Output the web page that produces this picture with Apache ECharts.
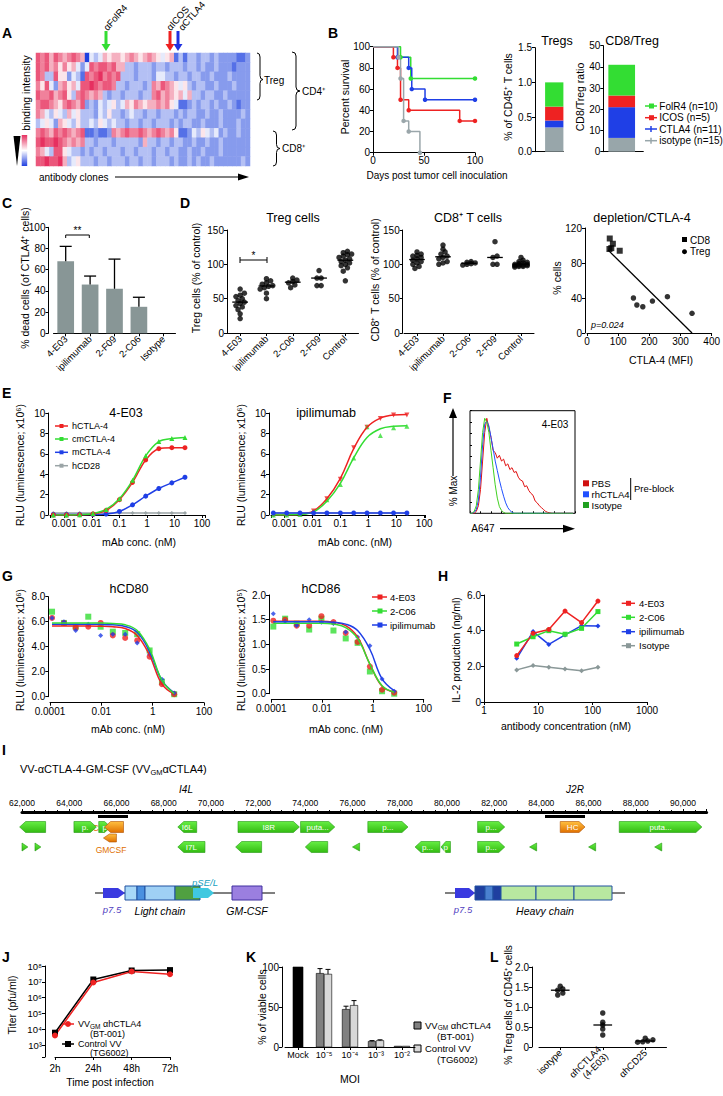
<!DOCTYPE html>
<html>
<head>
<meta charset="utf-8">
<script src="https://cdn.jsdelivr.net/npm/echarts@6.0.0/dist/echarts.min.js"></script>
<style>
html,body{margin:0;padding:0;background:#fff;}
#chart{width:723px;height:1096px;}
</style>
</head>
<body>
<div id="chart"></div>
<script>
// ======================= DATA =======================
// A: binding intensity (0 = low / blue ... 9 = high / red), rows = cell subsets, columns = antibody clones
const heatRow0 = [8,7,8,6,8,7,6,7,8,7,6,0,4,3,4,6,5,6,6,5,6,7,6,5,6,7,6,5,4,5,6,1,3,1,3,3,2,3,3,2,3,2,2,2,2,1,1,2];
const heatRow1 = [8,7,8,6,7,5,7,5,6,4,2,4,8,7,8,8,7,8,6,6,3,3,2,3,3,3,2,3,3,2,3,3,3,2,3,3,2,3,2,2,3,2,2,2,1,2,2,2];
const heatRow2 = [8,7,3,3,8,5,5,2,4,3,1,8,7,8,9,7,8,7,8,3,3,3,2,3,3,3,2,4,4,3,3,2,3,3,2,3,3,2,2,3,2,2,2,3,2,2,2,2];
const heatRow3 = [7,5,8,4,2,6,7,5,6,4,8,8,9,8,7,8,8,7,3,3,2,3,3,3,2,3,7,6,8,7,6,5,4,5,3,2,3,3,2,2,3,2,2,2,3,2,2,2];
const heatRow4 = [8,7,7,8,6,7,8,5,3,7,8,7,6,7,6,3,2,3,3,2,3,3,3,2,3,3,7,8,6,7,6,5,6,4,6,3,3,2,3,3,2,2,3,2,2,2,2,2];
const heatRow5 = [7,8,8,7,6,5,7,8,7,6,8,2,3,2,4,3,4,5,3,4,6,5,7,6,5,6,6,7,6,7,5,4,1,1,2,3,2,3,3,2,3,2,2,3,2,1,2,2];
const heatRow6 = [7,6,4,3,5,4,3,6,4,5,3,3,3,2,4,3,5,3,3,2,3,4,3,3,2,3,3,2,3,3,3,2,3,2,3,3,2,2,3,2,2,3,2,2,2,2,3,2];
const heatRow7 = [3,4,5,4,2,6,5,4,3,5,3,3,4,3,5,4,3,4,3,3,2,3,3,2,3,3,2,3,3,3,2,3,2,3,3,2,2,3,2,2,2,3,2,2,2,3,2,2];
const heatRow8 = [7,8,7,6,8,7,8,7,6,7,8,1,1,2,1,1,2,7,6,7,8,7,7,8,7,6,7,8,7,6,7,5,1,1,2,4,3,5,4,3,4,2,3,2,2,3,2,2];
const heatRow9 = [8,9,8,8,9,8,7,6,7,6,7,3,3,2,3,3,3,2,3,3,3,3,3,2,6,3,3,2,3,3,2,3,3,2,2,3,2,2,3,2,2,3,2,2,2,2,2,2];
const heatRow10 = [7,6,4,3,8,8,5,4,3,3,2,3,2,3,3,2,3,3,3,2,3,3,2,3,3,3,2,3,3,2,3,3,2,2,3,2,2,3,2,2,2,3,2,2,2,2,2,2];
const heatRow11 = [8,8,9,8,8,9,6,3,4,5,3,3,3,2,3,3,2,3,3,3,2,3,3,2,3,3,2,3,3,3,2,3,2,2,3,2,3,2,2,3,2,2,2,2,2,2,3,2];
const heatRows = [heatRow0,heatRow1,heatRow2,heatRow3,heatRow4,heatRow5,heatRow6,heatRow7,heatRow8,heatRow9,heatRow10,heatRow11];

// B: Kaplan-Meier survival [day, % survival]
const survFolR4 = [[0,100],[27,90],[37,70],[100,70]];
const survICOS = [[0,100],[20,90],[24,80],[27,50],[35,40],[85,30],[100,30]];
const survCTLA4 = [[0,100],[24,90],[35,80],[38,60],[51,50],[100,50]];
const survIsotype = [[0,100],[25,90],[27,70],[30,30],[35,20],[46,0]];
const bGroups = ['FolR4 (n=10)','ICOS (n=5)','CTLA4 (n=11)','isotype (n=15)'];
const bTregPct = [0.35,0.20,0.10,0.35];
const bRatio = [14.5,5.5,14.5,6.5];

// C: % dead cells
const cCats = ['4-E03','ipilimumab','2-F09','2-C06','Isotype'];
const cMean = [68,46,42,25,0];
const cErr = [14,8,28,9,0];

// D: depletion
const dCats = ['4-E03','ipilimumab','2-C06','2-F09','Control'];
const dTreg4E03 = [64,58,55,53,50,47,45,43,40,38,34,28,21];
const dTregIpi = [79,76,73,71,69,68,66,64,58,50];
const dTregC06 = [80,77,75,73,70,66];
const dTregF09 = [91,80,80,69,69];
const dTregCtrl = [119,117,115,114,112,110,108,106,104,102,100,98,95,90,76];
const dCD84E03 = [118,115,113,112,110,108,106,104,102,100,97,94];
const dCD8Ipi = [128,122,118,115,112,110,108,104,102,100];
const dCD8C06 = [104,103,102,101,100,99];
const dCD8F09 = [133,112,110,100,100];
const dCD8Ctrl = [110,106,104,103,102,101,100,100,99,99,98,98,97,97,96];
const depCD8 = [[73,108],[72,96],[83,102],[78,97],[105,94]];
const depTreg = [[149,40],[160,32],[179,30],[210,36.5],[258,41.5],[337,22.5]];
const depFit = [[67,95],[337,0]];

// E: RLU vs mAb concentration (nM)
const eConc = [0.0004,0.0012,0.0036,0.011,0.033,0.1,0.3,0.9,2.7,8,24];
const e4hCTLA4 = [0,0,0.02,0.1,0.45,1.5,3.2,5.4,6.5,6.6,6.6];
const e4cmCTLA4 = [0,0,0.03,0.15,0.55,1.6,3.4,5.8,7.2,7.5,7.6];
const e4mCTLA4 = [0.05,0.05,0.05,0.05,0.1,0.35,1.0,1.85,2.6,3.15,3.7];
const e4hCD28 = [0.2,0.2,0.2,0.2,0.2,0.2,0.2,0.2,0.2,0.2,0.2];
const eIhCTLA4 = [0,0,0.05,0.4,1.6,3.5,6.6,8.6,9.45,9.8,9.8];
const eIcmCTLA4 = [0,0,0.05,0.35,1.5,3.0,5.6,8.65,7.8,8.55,8.7];
const eImCTLA4 = [0.2,0.2,0.2,0.2,0.2,0.2,0.2,0.2,0.2,0.2,0.2];
const eIhCD28 = [0.2,0.2,0.2,0.2,0.2,0.2,0.2,0.2,0.2,0.2,0.2];
const eIhCTLA4Fit = [0,0.01,0.06,0.4,1.6,3.6,6.5,8.6,9.5,9.8,9.85];
const eIcmCTLA4Fit = [0,0.01,0.05,0.3,1.35,3.1,5.6,7.6,8.45,8.7,8.75];

// F: histogram (% of max) per fluorescence bin
const fPBS = [0,0,0,2,8,25,55,85,100,90,80,66,64,58,61,55,57,50,52,46,48,43,44,38,35,34,28,29,24,21,19,13,11,8,6,4,2,1,0.5,0,0,0,0,0,0,0,0,0,0,0];
const fRh = [0,0,1,4,14,38,72,94,97,92,80,68,55,45,35,26,18,11,6,3,1,0,0,0,0,0,0,0,0,0,0,0,0,0,0,0,0,0,0,0,0,0,0,0,0,0,0,0,0,0];
const fIso = [0,0,2,8,25,55,85,100,96,85,66,48,30,16,7,3,1,0,0,0,0,0,0,0,0,0,0,0,0,0,0,0,0,0,0,0,0,0,0,0,0,0,0,0,0,0,0,0,0,0];

// G: ligand blocking
const gConc = [0.00012,0.00035,0.001,0.0031,0.0094,0.028,0.085,0.25,0.76,2.3,6.9];
const g80E03 = [6.3,5.9,5.5,5.6,5.9,4.9,4.7,4.5,3.2,1.0,0.2];
const g80C06 = [6.8,5.9,5.6,6.4,5.6,5.2,5.1,5.0,3.7,1.2,0.2];
const g80Ipi = [6.3,6.0,5.3,5.8,4.9,5.0,5.0,4.3,3.4,1.4,0.3];
const g80E03Fit = [5.65,5.65,5.65,5.65,5.64,5.6,5.45,4.9,3.3,1.0,0.2];
const g80C06Fit = [5.9,5.9,5.9,5.9,5.89,5.85,5.75,5.3,3.8,1.3,0.25];
const g80IpiFit = [5.8,5.8,5.8,5.8,5.79,5.75,5.62,5.15,3.6,1.3,0.3];
const g86E03 = [1.48,1.50,1.38,1.38,1.57,1.45,1.23,1.05,0.55,0.08,0.02];
const g86C06 = [1.36,1.52,1.42,1.30,1.52,1.28,1.12,1.03,0.45,0.05,0.0];
const g86Ipi = [1.62,1.47,1.38,1.50,1.45,1.42,1.25,1.15,0.97,0.3,0.05];
const g86E03Fit = [1.47,1.47,1.47,1.47,1.47,1.45,1.38,1.15,0.6,0.15,0.03];
const g86C06Fit = [1.43,1.43,1.43,1.43,1.43,1.41,1.34,1.12,0.6,0.16,0.03];
const g86IpiFit = [1.46,1.46,1.46,1.46,1.46,1.45,1.41,1.28,0.9,0.3,0.06];

// H: IL-2 production
const hConc = [4,8,15.6,31,62.5,125];
const hE03 = [2.6,3.85,4.07,5.1,4.45,5.66];
const hC06 = [3.25,3.66,4.0,3.8,4.13,5.07];
const hIpi = [2.45,3.95,3.23,3.76,4.28,4.26];
const hIso = [1.8,2.05,1.95,1.85,1.75,1.95];

// I: genome map features (bp)
const iGeneStart = [61900,64200,65250,65500,68600,71150,73800,76650,81300,84800,87300, 62000,62550,65450,68600,71050,74000,76000,78650,79750,81300,83500,86000,88800];
const iGeneEnd   = [63000,65150,65750,66300,69400,73750,75250,78350,82450,85850,90800, 62250,62800,66000,69750,72150,74950,76300,79700,80150,82450,83800,86300,89100];
const iGeneRow   = [0,0,0,0,0,0,0,0,0,0,0, 1,1,0.55,1,1,1,1,1,1,1,1,1,1];
const iGeneDir   = [-1,1,1,-1,-1,1,1,1,1,1,1, 1,1,-1,-1,-1,-1,-1,-1,-1,1,-1,-1,-1];
const iGeneKind  = [0,0,0,1,0,0,0,0,0,1,0, 2,2,3,0,0,0,2,0,0,0,2,2,2];
const iGeneLabel = ['','p.','p','','I6L','I8R','puta...','p...','p...','HC','puta...', '','','','I7L','','','','p...','p','p...','','',''];

// J: virus titer
const jTimes = ['2h','24h','48h','72h'];
const jBT = [4000,9000000,45000000,30000000];
const jTG = [6000,14000000,52000000,55000000];

// K: viability
const kCats = ['Mock','10⁻⁵','10⁻⁴','10⁻³','10⁻²'];
const kMock = [100];
const kBT = [92,47,7,1];
const kTG = [91,52,8,1];
const kBTErr = [6,4,1,0];
const kTGErr = [6,6,1,0];

// L: Treg depletion in vivo
const lCats = ['isotype','αhCTLA4\n(4-E03)','αhCD25'];
const lIso = [1.52,1.45,1.42,1.35,1.30];
const lCTLA4 = [0.85,0.62,0.55,0.45,0.30];
const lCD25 = [0.22,0.18,0.15,0.13,0.12];

// ======================= HELPERS =======================
const FONT = '"Liberation Sans", Arial, Helvetica, sans-serif';
const COL = {red:'#ee2222', green:'#33dd33', blue:'#1f3fe6', gray:'#9aa6aa'};
function font(size, weight, style){ return (style||'normal')+' '+(weight||'normal')+' '+size+'px '+FONT; }
function merge(a,b){ const o=Object.assign({},a); for(const k in b){ const bv=b[k], av=a[k]; if(bv && typeof bv==='object' && !Array.isArray(bv) && av && typeof av==='object' && !Array.isArray(av)) o[k]=merge(av,bv); else o[k]=bv; } return o; }
const grids=[], xAxes=[], yAxes=[], series=[], graphics=[];
function grid(l,t,w,h,extra){ grids.push(Object.assign({left:l,top:t,width:w,height:h,containLabel:false},extra||{})); return grids.length-1; }
const AX = {axisLine:{show:true,onZero:false,lineStyle:{color:'#000',width:1}}, axisTick:{show:true,length:3,lineStyle:{color:'#000',width:1}}, axisLabel:{fontSize:9.5,color:'#000',fontFamily:FONT,margin:3}, splitLine:{show:false}};
function xa(gi,o){ xAxes.push(merge(merge(AX,{gridIndex:gi}),o)); return xAxes.length-1; }
function ya(gi,o){ yAxes.push(merge(merge(AX,{gridIndex:gi}),o)); return yAxes.length-1; }
function T(x,y,s,o){ o=o||{}; const st={text:s, fill:o.fill||'#000', font:font(o.size||10,o.weight,o.style), textAlign:o.align||'left', textVerticalAlign:o.valign||'middle'}; if(o.rich) st.rich=o.rich; graphics.push({type:'text', x:x, y:y, rotation:o.rot||0, silent:true, style:st}); }
function L(x1,y1,x2,y2,stroke,w){ graphics.push({type:'line', silent:true, shape:{x1:x1,y1:y1,x2:x2,y2:y2}, style:{stroke:stroke||'#000', lineWidth:w||1}}); }
function P(points,fill,stroke,w){ graphics.push({type:'polygon', silent:true, shape:{points:points}, style:{fill:fill, stroke:stroke||null, lineWidth:w||1}}); }
function R(x,y,w,h,fill,stroke){ graphics.push({type:'rect', silent:true, shape:{x:x,y:y,width:w,height:h}, style:{fill:fill, stroke:stroke||null, lineWidth:1}}); }
function Q(x1,y1,cx,cy,x2,y2){ graphics.push({type:'bezierCurve', silent:true, shape:{x1:x1,y1:y1,x2:x2,y2:y2,cpx1:cx,cpy1:cy}, style:{stroke:'#000', fill:null, lineWidth:1}}); }
function brace(x0,y0,y1,ym,w){ const xm=x0+w/2, r=Math.min(4,(y1-y0)/6);
  Q(x0,y0,xm,y0,xm,y0+r); L(xm,y0+r,xm,ym-r); Q(xm,ym-r,xm,ym,x0+w,ym); Q(x0+w,ym,xm,ym,xm,ym+r); L(xm,ym+r,xm,y1-r); Q(xm,y1-r,xm,y1,x0,y1); }
function isDecade(v){ const l=Math.log10(v); return Math.abs(l-Math.round(l))<1e-6; }
function logFmt(v){ if(!isDecade(v)) return ''; const p=Math.round(Math.log10(v)); return p>=0? String(Math.round(v)) : v.toFixed(-p); }
const SUP = {'-':'⁻','0':'⁰','1':'¹','2':'²','3':'³','4':'⁴','5':'⁵','6':'⁶','7':'⁷','8':'⁸','9':'⁹'};
function pow10Fmt(v){ if(!isDecade(v)) return ''; return '10'+String(Math.round(Math.log10(v))).split('').map(c=>SUP[c]).join(''); }
function median(a){ const s=a.slice().sort((x,y)=>x-y); const n=s.length; return n%2? s[(n-1)/2] : (s[n/2-1]+s[n/2])/2; }
function swarm(vals, ci, thr, step){
  const s=vals.slice().sort((a,b)=>a-b); const out=[]; let grp=[];
  const flush=()=>{ grp.forEach((v,j)=>out.push([ci+(j-(grp.length-1)/2)*step, v])); grp=[]; };
  s.forEach(v=>{ if(grp.length && (v-grp[0]>thr || grp.length>=4)) flush(); grp.push(v); }); flush(); return out;
}
function errRender(cap){ return function(params, api){ const x=api.value(0), m=api.value(1), e=api.value(2); const p0=api.coord([x,m]), p1=api.coord([x,m+e]); return {type:'group', children:[{type:'line', shape:{x1:p0[0],y1:p0[1],x2:p1[0],y2:p1[1]}, style:{stroke:'#000',lineWidth:1.3}},{type:'line', shape:{x1:p1[0]-cap,y1:p1[1],x2:p1[0]+cap,y2:p1[1]}, style:{stroke:'#000',lineWidth:1.3}}]}; }; }
function medRender(half){ return function(params, api){ const x=api.value(0), m=api.value(1); const p=api.coord([x,m]); const w=api.size([1,0])[0]*half; return {type:'line', shape:{x1:p[0]-w,y1:p[1],x2:p[0]+w,y2:p[1]}, style:{stroke:'#000',lineWidth:1.3}}; }; }

// ======================= PANEL LETTERS =======================
[['A',2,33],['B',328,33],['C',2,203],['D',180,203],['E',2,393],['F',443,398],['G',2,576],['H',438,576],['I',2,750],['J',2,957],['K',246,957],['L',490,957]].forEach(a=>T(a[1],a[2],a[0],{size:14,weight:'bold'}));

// ======================= A =======================
const gA = grid(36,53,214,113);
const xA = xa(gA,{type:'category', data:heatRow0.map((_,i)=>i), show:false});
const yA = ya(gA,{type:'category', data:heatRows.map((_,i)=>i), inverse:true, show:false});
const heatData=[]; heatRows.forEach((row,r)=>row.forEach((v,c)=>heatData.push([c,r,v])));
series.push({type:'heatmap', xAxisIndex:xA, yAxisIndex:yA, data:heatData, itemStyle:{borderWidth:0}, emphasis:{disabled:true}});
const heatIdx = series.length-1;
[[106,'#33dd33'],[170,'#ee2020'],[178,'#2030e0']].forEach(a=>{ L(a[0],31,a[0],45,a[1],3); P([[a[0]-4.5,44],[a[0]+4.5,44],[a[0],51]],a[1]); });
T(105,29,'αFolR4',{rot:Math.PI*0.27,size:9.5});
T(168,29,'αICOS',{rot:Math.PI*0.27,size:9.5});
T(180,29,'αCTLA4',{rot:Math.PI*0.27,size:9.5});
T(26,93,'binding intensity',{rot:Math.PI/2,size:10.5,align:'center'});
graphics.push({type:'rect', silent:true, shape:{x:21.7,y:135,width:5.5,height:31}, style:{fill:{type:'linear',x:0,y:0,x2:0,y2:1,colorStops:[{offset:0,color:'#e63060'},{offset:0.5,color:'#ffffff'},{offset:1,color:'#2040e0'}]}}});
P([[13.5,136],[20.5,136],[17,166]],'#000');
T(39,177,'antibody clones',{size:10});
L(115,177,240,177,'#000',1.2); P([[238,173.5],[249,177],[238,180.5]],'#000');
brace(257,53,100,79.5,6); T(264,80,'Treg',{size:10});
brace(292,52,130,91,8); T(302,91,'CD4⁺',{size:10});
brace(273,131,166,148.5,7); T(282,148.5,'CD8⁺',{size:10});

// ======================= B =======================
const gB = grid(373,46.7,102,106);
const xB = xa(gB,{type:'value',min:0,max:100,interval:50,axisLabel:{fontSize:10}});
const yB = ya(gB,{type:'value',min:0,max:100,interval:20,axisLabel:{fontSize:10}});
[[survFolR4,'#33dd33'],[survCTLA4,COL.blue],[survICOS,COL.red],[survIsotype,COL.gray]].forEach(s=>{
  series.push({type:'line', xAxisIndex:xB, yAxisIndex:yB, step:'end', data:s[0].map((p,i)=>i===0?{value:p,symbol:'none'}:{value:p}), symbol:'circle', symbolSize:4.5, showSymbol:true, lineStyle:{color:s[1],width:1.5}, itemStyle:{color:s[1]}});
});
T(345,97,'Percent survival',{rot:Math.PI/2,size:10.5,align:'center'});
T(437,175,'Days post tumor cell inoculation',{size:10,align:'center'});
const bColors = ['#33dd33','#ee2222','#1f3fe6','#98a6aa'];
function stackRender(width){ return function(params, api){ const x=api.value(0), lo=api.value(1), hi=api.value(2), ci=api.value(3); const p0=api.coord([x,lo]), p1=api.coord([x,hi]); return {type:'rect', shape:{x:p0[0]-width/2, y:p1[1], width:width, height:p0[1]-p1[1]}, style:{fill:bColors[ci]}}; }; }
function stackData(x, vals){ const out=[]; let acc=0; [3,2,1,0].forEach(i=>{ out.push([x, acc, acc+vals[i], i]); acc+=vals[i]; }); return out; }
const gBT = grid(535,47.7,28.3,104);
const xBT = xa(gBT,{type:'value',min:0,max:1,axisTick:{show:false},axisLabel:{show:false}});
const yBT = ya(gBT,{type:'value',min:0,max:1.5,interval:0.5,axisLabel:{fontSize:10,formatter:v=>v.toFixed(1)}});
series.push({type:'custom', xAxisIndex:xBT, yAxisIndex:yBT, renderItem:stackRender(18.3), data:stackData(0.68,bTregPct)});
const gBR = grid(603.3,45.7,40,106);
const xBR = xa(gBR,{type:'value',min:0,max:1,axisTick:{show:false},axisLabel:{show:false}});
const yBR = ya(gBR,{type:'value',min:0,max:50,interval:10,axisLabel:{fontSize:10}});
series.push({type:'custom', xAxisIndex:xBR, yAxisIndex:yBR, renderItem:stackRender(26.7), data:stackData(0.46,bRatio)});
T(557,41,'Tregs',{size:12.5,align:'center'});
T(632,41,'CD8/Treg',{size:12.5,align:'center'});
T(508,97,'% of CD45⁺ T cells',{rot:Math.PI/2,size:10.5,align:'center'});
T(580,97,'CD8/Treg ratio',{rot:Math.PI/2,size:10.5,align:'center'});
bGroups.forEach((g,i)=>{ const y=[106,117.7,129,140.7][i]; L(645,y,657,y,bColors[i],1.5); if(i<2) R(649,y-2.5,5,5,bColors[i]); else { L(651,y-3,651,y+3,bColors[i],1.5); } T(659.3,y,g,{size:10}); });

// ======================= C =======================
const gC = grid(53.5,227.3,122,106);
const xC = xa(gC,{type:'category',data:cCats,axisTick:{alignWithLabel:true},axisLabel:{rotate:45,fontSize:9.5,margin:4,interval:0}});
const yC = ya(gC,{type:'value',min:0,max:100,interval:20,offset:5,axisLabel:{fontSize:10}});
series.push({type:'bar', xAxisIndex:xC, yAxisIndex:yC, data:cMean, barWidth:16.7, itemStyle:{color:'#889696'}});
series.push({type:'custom', xAxisIndex:xC, yAxisIndex:yC, renderItem:errRender(6), data:cMean.map((m,i)=>[i,m,cErr[i]]).filter(d=>d[2]>0), z:3});
T(25,278,'% dead cells (of CTLA4⁺ cells)',{rot:Math.PI/2,size:10.5,align:'center'});
L(65.7,235,89.3,235); L(65.7,235,65.7,238); L(89.3,235,89.3,238); T(77.5,230,'**',{size:10,align:'center'});

// ======================= D =======================
function dotPanel(l,t,w,h,groups,yOff){
  const gi = grid(l,t,w,h);
  const xc = xa(gi,{type:'category',data:dCats,axisTick:{alignWithLabel:true},axisLabel:{rotate:45,fontSize:9.5,margin:4,interval:0}});
  const xv = xa(gi,{type:'value',min:-0.5,max:4.5,show:false});
  const yv = ya(gi,{type:'value',min:0,max:150,interval:50,offset:yOff,axisLabel:{fontSize:10}});
  const pts=[]; groups.forEach((g,ci)=>swarm(g,ci,5,0.16).forEach(p=>pts.push(p)));
  series.push({type:'scatter', xAxisIndex:xv, yAxisIndex:yv, data:pts, symbol:'circle', symbolSize:5.5, itemStyle:{color:'#000'}});
  series.push({type:'custom', xAxisIndex:xv, yAxisIndex:yv, renderItem:medRender(0.3), data:groups.map((g,ci)=>[ci,median(g)])});
}
dotPanel(227,230,131.5,103,[dTreg4E03,dTregIpi,dTregC06,dTregF09,dTregCtrl],0);
dotPanel(404,230,130,103,[dCD84E03,dCD8Ipi,dCD8C06,dCD8F09,dCD8Ctrl],1.3);
T(293,218,'Treg cells',{size:12.5,align:'center'});
T(468,218,'CD8⁺ T cells',{size:12.5,align:'center'});
T(196,278,'Treg cells (% of control)',{rot:Math.PI/2,size:10.5,align:'center'});
T(375,280,'CD8⁺ T cells (% of control)',{rot:Math.PI/2,size:10.5,align:'center'});
L(240,260,267,260); L(240,257,240,263); L(267,257,267,263); T(253.5,255,'*',{size:10,align:'center'});
const gDp = grid(587,228,126,105);
const xDp = xa(gDp,{type:'value',min:0,max:400,interval:100,axisLabel:{fontSize:10}});
const yDp = ya(gDp,{type:'value',min:0,max:120,interval:40,offset:2,axisLabel:{fontSize:10}});
series.push({type:'scatter', xAxisIndex:xDp, yAxisIndex:yDp, data:depCD8, symbol:'rect', symbolSize:6, itemStyle:{color:'#000'}});
series.push({type:'scatter', xAxisIndex:xDp, yAxisIndex:yDp, data:depTreg, symbol:'circle', symbolSize:5.5, itemStyle:{color:'#000'}});
series.push({type:'line', xAxisIndex:xDp, yAxisIndex:yDp, data:depFit, symbol:'none', lineStyle:{color:'#000',width:1.3}});
T(642,218,'depletion/CTLA-4',{size:12.5,align:'center'});
T(557,278,'% cells',{rot:Math.PI/2,size:10.5,align:'center'});
T(661,360,'CTLA-4 (MFI)',{size:10.5,align:'center'});
T(591,325,'p=0.024',{size:9,style:'italic'});
R(682,237,5,5,'#000'); T(690,240,'CD8',{size:10});
graphics.push({type:'circle',silent:true,shape:{cx:684.5,cy:251.7,r:2.5},style:{fill:'#000'}}); T(690,251.7,'Treg',{size:10});

// ======================= E =======================
function logAxis(gi,min,max,o){ return xa(gi,merge({type:'log',logBase:10,min:min,max:max,axisLabel:{fontSize:10,formatter:logFmt}},o||{})); }
function curveSet(xi,yi,defs){ defs.forEach(d=>{
  if(d[4]){ series.push({type:'line', xAxisIndex:xi, yAxisIndex:yi, data:eConc.map((c,i)=>[c,d[4][i]]), smooth:0.4, symbol:'none', lineStyle:{color:d[1],width:1.5}});
            series.push({type:'scatter', xAxisIndex:xi, yAxisIndex:yi, data:eConc.map((c,i)=>[c,d[0][i]]), symbol:d[2], symbolSize:d[3]||5, itemStyle:{color:d[1]}}); }
  else series.push({type:'line', xAxisIndex:xi, yAxisIndex:yi, data:eConc.map((c,i)=>[c,d[0][i]]), smooth:0.35, symbol:d[2], symbolSize:d[3]||5, lineStyle:{color:d[1],width:1.5}, itemStyle:{color:d[1]}}); }); }
const gE1 = grid(50,413,155,102);
const xE1 = logAxis(gE1,0.000303,128);
const yE1 = ya(gE1,{type:'value',min:0,max:10,interval:2,offset:1.7,axisLabel:{fontSize:10}});
curveSet(xE1,yE1,[[e4hCD28,'#9aa4a6','diamond',4],[e4mCTLA4,COL.blue,'circle',5],[e4hCTLA4,COL.red,'circle',5],[e4cmCTLA4,'#33dd33','triangle',5]]);
const gE2 = grid(271,413,153.8,102);
const xE2 = logAxis(gE2,0.00033,105);
const yE2 = ya(gE2,{type:'value',min:0,max:10,interval:2,offset:2,axisLabel:{fontSize:10}});
curveSet(xE2,yE2,[[eIhCD28,'#9aa4a6','diamond',4],[eIhCTLA4,COL.red,'path://M0,0L10,0L5,9Z',5,eIhCTLA4Fit],[eIcmCTLA4,'#33dd33','triangle',5,eIcmCTLA4Fit],[eImCTLA4,COL.blue,'circle',5]]);
T(126,413,'4-E03',{size:12.5,align:'center'});
T(326,413,'ipilimumab',{size:12.5,align:'center'});
T(20,465,'RLU (luminescence; x10⁶)',{rot:Math.PI/2,size:10.5,align:'center'});
T(241,465,'RLU (luminescence; x10⁶)',{rot:Math.PI/2,size:10.5,align:'center'});
T(139,541.7,'mAb conc. (nM)',{size:10.5,align:'center'});
T(355,541.7,'mAb conc. (nM)',{size:10.5,align:'center'});
[['hCTLA-4',COL.red],['cmCTLA-4','#33dd33'],['mCTLA-4',COL.blue],['hCD28','#9aa4a6']].forEach((d,i)=>{ const y=[426,439,452.3,465.7][i]; L(55,y,68,y,d[1],1.5); R(59.5,y-2,4,4,d[1]); T(72,y,d[0],{size:9}); });

// ======================= F =======================
const gF = grid(470,410.7,105,102.6,{show:true,borderColor:'#000',borderWidth:1,backgroundColor:'#fff'});
const xF = xa(gF,{type:'value',min:0,max:50,interval:5,axisLine:{show:false},axisTick:{inside:true,length:2},axisLabel:{show:false}});
const yF = ya(gF,{type:'value',min:0,max:108,interval:12,axisLine:{show:false},axisTick:{inside:true,length:2},axisLabel:{show:false}});
[[fPBS,'#e01010'],[fRh,'#2050ff'],[fIso,'#40d020']].forEach(d=>series.push({type:'line', xAxisIndex:xF, yAxisIndex:yF, data:d[0].map((v,i)=>[i,v]), symbol:'none', lineStyle:{color:d[1],width:1}}));
T(555,424,'4-E03',{size:10,align:'center'});
L(453,476,453,416,'#000',1.2); P([[449,418],[457,418],[453,408]],'#000');
T(453,491,'% Max',{rot:Math.PI/2,size:10,align:'center'});
T(483,528.7,'A647',{size:10,align:'center'});
L(500,528.7,565,528.7,'#000',1.2); P([[563,524.7],[575,528.7],[563,532.7]],'#000');
[['PBS','#d01010',483.3],['rhCTLA4','#2050ff',494.3],['Isotype','#20a020',505]].forEach(d=>{ R(583,d[2]-3,6,6,d[1]); T(591.5,d[2],d[0],{size:9.5}); });
L(630.7,478,630.7,500); T(634,488,'Pre-block',{size:9.5});

// ======================= G =======================
function gSet(xi,yi,conc,pts,fits){
  fits.forEach(f=>series.push({type:'line', xAxisIndex:xi, yAxisIndex:yi, data:conc.map((c,i)=>[c,f[0][i]]), smooth:0.4, symbol:'none', lineStyle:{color:f[1],width:1.5}}));
  pts.forEach(p=>series.push({type:'scatter', xAxisIndex:xi, yAxisIndex:yi, data:conc.map((c,i)=>[c,p[0][i]]), symbol:p[2], symbolSize:p[3], itemStyle:{color:p[1]}}));
}
const gG1 = grid(50,596.7,154,100);
const xG1 = logAxis(gG1,0.0001,100,{interval:2,offset:6,axisLabel:{margin:4}});
const yG1 = ya(gG1,{type:'value',min:0,max:8,interval:2,offset:1.7,axisLabel:{fontSize:10,formatter:v=>v.toFixed(1)}});
gSet(xG1,yG1,gConc,[[g80C06,'#33dd33','rect',6],[g80E03,COL.red,'circle',6],[g80Ipi,COL.blue,'diamond',5]],[[g80E03Fit,COL.red],[g80IpiFit,COL.blue],[g80C06Fit,'#33dd33']]);
const gG2 = grid(271.3,595,152.4,98.7);
const xG2 = logAxis(gG2,0.0001,100,{interval:2,offset:6,axisLabel:{margin:4}});
const yG2 = ya(gG2,{type:'value',min:0,max:2,interval:0.5,offset:2.3,axisLabel:{fontSize:10,formatter:v=>v.toFixed(1)}});
gSet(xG2,yG2,gConc,[[g86C06,'#33dd33','rect',6],[g86E03,COL.red,'circle',6],[g86Ipi,COL.blue,'diamond',5]],[[g86E03Fit,COL.red],[g86C06Fit,'#33dd33'],[g86IpiFit,COL.blue]]);
T(129,589,'hCD80',{size:12.5,align:'center'});
T(321,589,'hCD86',{size:12.5,align:'center'});
T(20,650,'RLU (luminescence; x10⁶)',{rot:Math.PI/2,size:10.5,align:'center'});
T(241,650,'RLU (luminescence; x10⁵)',{rot:Math.PI/2,size:10.5,align:'center'});
T(128,729,'mAb conc. (nM)',{size:10.5,align:'center'});
T(346,729,'mAb conc. (nM)',{size:10.5,align:'center'});
[['4-E03',COL.red],['2-C06','#33dd33'],['ipilimumab',COL.blue]].forEach((d,i)=>{ const y=[597,611,625][i]; L(372,y,387,y,d[1],1.5); R(377.5,y-2.5,5,5,d[1]); T(390,y,d[0],{size:9.5}); });

// ======================= H =======================
const gH = grid(484,595,163,107);
const xH = xa(gH,{type:'log',logBase:10,min:1,max:1000,axisLabel:{fontSize:10,formatter:logFmt}});
const yH = ya(gH,{type:'value',min:0,max:6,interval:2,axisLabel:{fontSize:10,formatter:v=>v===0?'0':v.toFixed(1)}});
[[hIso,'#8a9898','diamond'],[hIpi,COL.blue,'diamond'],[hC06,'#33dd33','rect'],[hE03,COL.red,'circle']].forEach(d=>series.push({type:'line', xAxisIndex:xH, yAxisIndex:yH, data:hConc.map((c,i)=>[c,d[0][i]]), symbol:d[2], symbolSize:5, lineStyle:{color:d[1],width:1.5}, itemStyle:{color:d[1]}}));
T(456,650,'IL-2 production (ng/ml)',{rot:Math.PI/2,size:10.5,align:'center'});
T(566,726,'antibody concentration (nM)',{size:10.5,align:'center'});
[['4-E03',COL.red],['2-C06','#33dd33'],['ipilimumab',COL.blue],['Isotype','#8a9898']].forEach((d,i)=>{ const y=[603.3,617.3,631.7,645.7][i]; L(621.7,y,635,y,d[1],1.5); R(626,y-2.5,5,5,d[1]); T(639,y,d[0],{size:9.5}); });

// ======================= I =======================
T(20,769,'{a|VV-αCTLA-4-GM-CSF (VV}{b|GM}{a|αCTLA4)}',{size:11,rich:{a:{font:font(11),fill:'#000'},b:{font:font(7.5),fill:'#000',padding:[6,0,0,0]}}});
T(186,789,'I4L',{size:10,style:'italic',align:'center'});
T(575,789,'J2R',{size:10,style:'italic',align:'center'});
const gI = grid(22,812,684.6,40);
const xI = xa(gI,{type:'value',min:62000,max:91000,interval:2000,position:'top',axisLine:{lineStyle:{width:3}},axisTick:{length:3},minorTick:{show:true,splitNumber:4,length:2,lineStyle:{color:'#000'}},axisLabel:{fontSize:8.5,margin:5,formatter:v=>(v%2000===0&&v<=90000)?v.toLocaleString('en-US'):''}});
const yI = ya(gI,{type:'value',min:-0.75,max:1.25,inverse:true,show:false});
const orangeFill = {type:'linear',x:0,y:0,x2:0,y2:1,colorStops:[{offset:0,color:'#ffc040'},{offset:1,color:'#e07000'}]};
const greenFill = {type:'linear',x:0,y:0,x2:0,y2:1,colorStops:[{offset:0,color:'#66ee44'},{offset:1,color:'#33bb11'}]};
series.push({type:'custom', xAxisIndex:xI, yAxisIndex:yI, clip:false, data:iGeneStart.map((s,i)=>[s,iGeneEnd[i],iGeneRow[i],iGeneDir[i],iGeneKind[i]]), renderItem:function(params,api){
  const s=api.value(0), e=api.value(1), row=api.value(2), dir=api.value(3), kind=api.value(4);
  const p0=api.coord([s,row]), p1=api.coord([e,row]); const y=p0[1];
  const x0=p0[0], x1=p1[0]; const h = kind===2?8:(kind===3?8:11); const len=x1-x0; const head=kind===2?len:Math.min(6,len*0.5);
  let pts;
  if(dir>0) pts=[[x0,y-h/2],[x1-head,y-h/2],[x1,y],[x1-head,y+h/2],[x0,y+h/2]];
  else pts=[[x1,y-h/2],[x0+head,y-h/2],[x0,y],[x0+head,y+h/2],[x1,y+h/2]];
  const orange = kind===1||kind===3;
  const ch=[{type:'polygon',shape:{points:pts},style:{fill:orange?orangeFill:greenFill,stroke:orange?'#b05000':'#229911',lineWidth:0.6}}];
  const lab=iGeneLabel[params.dataIndex];
  if(lab) ch.push({type:'text',x:(x0+x1)/2,y:y,style:{text:lab,font:font(8),fill:'#fff',textAlign:'center',textVerticalAlign:'middle'}});
  return {type:'group',children:ch};
}});
R(98,815,30,3,'#000'); R(545,815,40,3,'#000');
T(99,828,'LC',{size:8.5,fill:'#e07000',align:'right'});
T(111,850,'GMCSF',{size:8.5,fill:'#e07000',align:'center'});
L(95,893,275,893); L(445,893,625,893);
P([[103,888],[118,888],[125,893],[118,898],[103,898]],'#3a3ae0');
R(125,886,12,14,'#a8d8f8','#2050a0'); R(137,886,8,14,'#4a90e0','#2050a0'); R(145,886,30,14,'#9fd0f5','#2050a0'); R(175,886,25,14,'#50a040','#2050a0');
P([[193,888],[208,888],[214,893],[208,898],[193,898]],'#40c8e0');
R(232,886,30,14,'#9b7fe0','#4030a0');
P([[455,888],[469,888],[475,893],[469,898],[455,898]],'#3a3ae0');
R(475,886,10,14,'#1f3fa0','#2050a0'); R(485,886,8,14,'#4a80d0','#2050a0'); R(493,886,8,14,'#1f3fa0','#2050a0'); R(501,886,35,14,'#b8e8a0','#2050a0'); R(536,886,38,14,'#b8e8a0','#2050a0'); R(574,886,38,14,'#b8e8a0','#2050a0');
T(112,909,'p7.5',{size:9.5,style:'italic',fill:'#5040c0',align:'center'});
T(160,911,'Light chain',{size:10.5,style:'italic',align:'center'});
T(205,882,'pSE/L',{size:9.5,style:'italic',fill:'#20a0c0',align:'center'});
T(247,911,'GM-CSF',{size:10.5,style:'italic',align:'center'});
T(463,909,'p7.5',{size:9.5,style:'italic',fill:'#5040c0',align:'center'});
T(545,911,'Heavy chain',{size:10.5,style:'italic',align:'center'});

// ======================= J =======================
const gJ = grid(55,966,115,91);
const xJ = xa(gJ,{type:'category',data:jTimes,boundaryGap:false,axisLabel:{fontSize:10,margin:6}});
const yJ = ya(gJ,{type:'log',logBase:10,min:174,max:100000000,offset:10,axisLabel:{fontSize:9.5,formatter:pow10Fmt}});
series.push({type:'line', xAxisIndex:xJ, yAxisIndex:yJ, data:jTG, symbol:'rect', symbolSize:6, lineStyle:{color:'#000',width:1.5}, itemStyle:{color:'#000'}});
series.push({type:'line', xAxisIndex:xJ, yAxisIndex:yJ, data:jBT, symbol:'circle', symbolSize:6, lineStyle:{color:COL.red,width:1.5}, itemStyle:{color:COL.red}});
T(12,1005,'Titer (pfu/ml)',{rot:Math.PI/2,size:10.5,align:'center'});
T(110,1082,'Time post infection',{size:10.5,align:'center'});
L(62,1024,74,1024,COL.red,1.5); graphics.push({type:'circle',silent:true,shape:{cx:68,cy:1024,r:3},style:{fill:COL.red}});
T(78,1024,'{a|VV}{b|GM}{a| αhCTLA4}',{size:9,rich:{a:{font:font(9)},b:{font:font(6.5),padding:[5,0,0,0]}}});
T(90,1034,'(BT-001)',{size:9});
L(62,1044,74,1044,'#000',1.5); R(65,1041,6,6,'#000');
T(78,1044,'Control VV',{size:9}); T(90,1053,'(TG6002)',{size:9});

// ======================= K =======================
const gK = grid(285,967,130,80);
const xK = xa(gK,{type:'category',data:kCats,axisTick:{alignWithLabel:true},axisLabel:{fontSize:9,interval:0}});
const yK = ya(gK,{type:'value',min:0,max:100,interval:50,offset:3,axisLabel:{fontSize:10}});
function kRender(params, api){ const x=api.value(0), v=api.value(1), slot=api.value(2), err=api.value(3);
  const bw = slot===0?10:7.5; const off = slot===0?0:(slot===1?-4:4);
  const base=api.coord([x,0]), top=api.coord([x,v]); const cx=base[0]+off;
  const fill = slot===0?'#000':(slot===1?'#808080':'#d8d8d8');
  const ch=[{type:'rect',shape:{x:cx-bw/2,y:top[1],width:bw,height:base[1]-top[1]},style:{fill:fill,stroke:'#000',lineWidth:0.6}}];
  if(err>0){ const e=api.coord([x,v+err]); ch.push({type:'line',shape:{x1:cx,y1:top[1],x2:cx,y2:e[1]},style:{stroke:'#000',lineWidth:1}}); ch.push({type:'line',shape:{x1:cx-2.5,y1:e[1],x2:cx+2.5,y2:e[1]},style:{stroke:'#000',lineWidth:1}}); }
  return {type:'group',children:ch}; }
const kData=[[0,kMock[0],0,0]]; kBT.forEach((v,i)=>kData.push([i+1,v,1,kBTErr[i]])); kTG.forEach((v,i)=>kData.push([i+1,v,2,kTGErr[i]]));
series.push({type:'custom', xAxisIndex:xK, yAxisIndex:yK, renderItem:kRender, data:kData});
T(262,1007,'% of viable cells',{rot:Math.PI/2,size:10.5,align:'center'});
T(350,1079,'MOI',{size:10.5,align:'center'});
R(414,1022,7,7,'#808080','#000'); T(425,1025,'{a|VV}{b|GM}{a| αhCTLA4}',{size:9.5,rich:{a:{font:font(9.5)},b:{font:font(6.5),padding:[5,0,0,0]}}}); T(437,1036,'(BT-001)',{size:9.5});
R(414,1045,7,7,'#d8d8d8','#000'); T(425,1048,'Control VV',{size:9.5}); T(437,1059,'(TG6002)',{size:9.5});

// ======================= L =======================
const gL = grid(539,967,127.5,80);
const xLc = xa(gL,{type:'category',data:lCats,axisTick:{alignWithLabel:true},axisLabel:{rotate:45,fontSize:9.5,margin:4,interval:0}});
const xLv = xa(gL,{type:'value',min:-0.5,max:2.5,show:false});
const yL = ya(gL,{type:'value',min:0,max:2,interval:0.5,offset:7,axisLabel:{fontSize:10,formatter:v=>v===0?'0':v.toFixed(1)}});
const lGroups=[lIso,lCTLA4,lCD25]; const lPts=[]; lGroups.forEach((g,ci)=>swarm(g,ci,0.06,0.12).forEach(p=>lPts.push(p)));
series.push({type:'scatter', xAxisIndex:xLv, yAxisIndex:yL, data:lPts, symbol:'circle', symbolSize:5.5, itemStyle:{color:'#000'}});
series.push({type:'custom', xAxisIndex:xLv, yAxisIndex:yL, renderItem:medRender(0.22), data:lGroups.map((g,ci)=>[ci,median(g)])});
T(508,1005,'% Treg cells of CD45⁺ cells',{rot:Math.PI/2,size:10,align:'center'});

// ======================= RENDER =======================
const chart = echarts.init(document.getElementById('chart'), null, {renderer:'svg', width:723, height:1096});
chart.setOption({
  animation:false, backgroundColor:'#fff',
  textStyle:{fontFamily:FONT},
  grid:grids, xAxis:xAxes, yAxis:yAxes, series:series.map(s=>Object.assign({silent:true},s)),
  visualMap:[{type:'continuous', show:false, min:0, max:9, dimension:2, seriesIndex:heatIdx, inRange:{color:['#2040e0','#7088ea','#b4c0f4','#ffffff','#f5b0c0','#ee6a88','#e63060']}}],
  graphic:graphics
});
</script>
</body>
</html>
